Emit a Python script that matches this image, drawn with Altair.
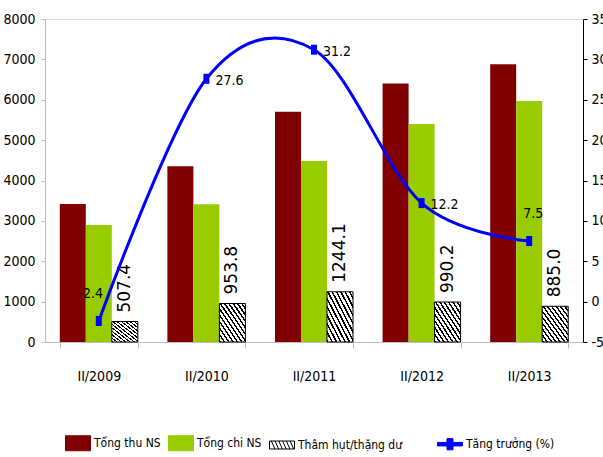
import altair as alt
import pandas as pd

# Budget revenue / expenditure by half-year (billion VND) and growth rate (%)
periods = ["II/2009", "II/2010", "II/2011", "II/2012", "II/2013"]
revenue = [3420, 4350, 5700, 6400, 6880]
spending = [2900, 3410, 4480, 5400, 5970]
balance = [507.4, 953.8, 1244.1, 990.2, 885.0]
growth = [-2.4, 27.6, 31.2, 12.2, 7.5]

series = ["Tổng thu NS", "Tổng chi NS", "Thâm hụt/thặng dư", "Tăng trưởng (%)"]
bar_series = series[:3]

NARROW = "DejaVu Sans Condensed, Liberation Sans Narrow, sans-serif"
HYPHEN = "replace(datum.label, '\u2212', '-')"

bars_df = pd.DataFrame(
    [{"period": p, "series": series[0], "value": v} for p, v in zip(periods, revenue)]
    + [{"period": p, "series": series[1], "value": v} for p, v in zip(periods, spending)]
    + [{"period": p, "series": series[2], "value": v} for p, v in zip(periods, balance)]
)
growth_df = pd.DataFrame({"period": periods, "growth": growth})

# Legend entries; the line entry sits a little apart from the bar entries
# (trailing no-break spaces, closed by a zero-width space so they are kept)
legend_names = list(series)
legend_names[2] = series[2] + "\u00a0" * 8 + "\u200b"
legend_df = pd.DataFrame({"series": legend_names})

x_enc = alt.X(
    "period:N",
    sort=periods,
    scale=alt.Scale(paddingInner=0.275, paddingOuter=0.1375),
    axis=alt.Axis(
        title=None, labelAngle=0, tickBand="extent", domainColor="#BFBFBF",
        tickColor="#BFBFBF", tickSize=6, labelPadding=21, labelFont=NARROW,
        labelFontSize=14, labelColor="black",
    ),
)
off_enc = alt.XOffset(
    "series:N", sort=bar_series,
    scale=alt.Scale(domain=bar_series, paddingInner=0, paddingOuter=0),
)
y_left = alt.Y(
    "value:Q",
    scale=alt.Scale(domain=[0, 8000], nice=False),
    axis=alt.Axis(
        title=None, grid=False, values=list(range(0, 8001, 1000)), format="d",
        domainColor="#BFBFBF", tickColor="#BFBFBF", tickSize=4, labelPadding=6,
        labelFont=NARROW, labelFontSize=14, labelColor="black",
    ),
)
y_right = alt.Y(
    "growth:Q",
    scale=alt.Scale(domain=[-5, 35], nice=False),
    axis=alt.Axis(
        title=None, grid=False, orient="right", values=list(range(-5, 36, 5)),
        labelExpr=HYPHEN, domainColor="black", tickColor="black", tickSize=4,
        labelPadding=4, labelFont=NARROW, labelFontSize=14, labelColor="black",
    ),
)

# Diagonal hatching for the surplus/deficit bars
stops = []
n_stripes = 12
for k in range(n_stripes):
    a = k / n_stripes
    b = (k + 0.4) / n_stripes
    c = (k + 1) / n_stripes
    stops += [
        alt.GradientStop(offset=a, color="black"),
        alt.GradientStop(offset=b, color="black"),
        alt.GradientStop(offset=b, color="white"),
        alt.GradientStop(offset=c, color="white"),
    ]
hatch = alt.LinearGradient(gradient="linear", stops=stops, x1=0, y1=1, x2=1, y2=0)

solid_bars = (
    alt.Chart(bars_df)
    .transform_filter(alt.FieldOneOfPredicate(field="series", oneOf=series[:2]))
    .mark_bar()
    .encode(
        x=x_enc, xOffset=off_enc, y=y_left,
        fill=alt.Fill("series:N", scale=alt.Scale(domain=series[:2], range=["#800000", "#99CC00"]), legend=None),
    )
)
hatched_bars = (
    alt.Chart(bars_df)
    .transform_filter(alt.datum.series == series[2])
    .mark_bar(fill=hatch, stroke="black", strokeWidth=1)
    .encode(x=x_enc, xOffset=off_enc, y=y_left)
)
balance_labels = (
    alt.Chart(bars_df)
    .transform_filter(alt.datum.series == series[2])
    .mark_text(angle=270, align="left", baseline="middle", dx=9, font="DejaVu Sans", fontSize=17, color="black")
    .encode(x=x_enc, xOffset=off_enc, y=y_left, text=alt.Text("value:Q", format=".1f"))
)

# Legend built from an invisible layer, with custom symbol paths
hatch_path = "M-1,-0.32H1V0.32H-1Z" + "".join(
    f"M{x:.2f},-0.32L{x + 0.28:.2f},0.32" for x in [-0.85, -0.55, -0.25, 0.05, 0.35, 0.65]
)
shapes = [
    "M-1,-0.6H1V0.6H-1Z",
    "M-1,-0.6H1V0.6H-1Z",
    hatch_path,
    "M-1,-0.14H1V0.14H-1ZM-0.24,-0.45H0.24V0.45H-0.24Z",
]
leg = alt.Legend(
    title=None, orient="none", legendX=20, legendY=411, direction="horizontal",
    symbolSize=625, symbolOpacity=1, symbolStrokeWidth=1, labelFont=NARROW,
    labelFontSize=12, labelColor="black", labelOffset=3, columnPadding=5, padding=0,
    labelLimit=400,
)
legend_layer = (
    alt.Chart(legend_df)
    .mark_point(filled=True, opacity=0)
    .encode(
        color=alt.Color("series:N", sort=legend_names, scale=alt.Scale(domain=legend_names, range=["#800000", "#99CC00", "white", "#0000FF"]), legend=leg),
        stroke=alt.Stroke("series:N", sort=legend_names, scale=alt.Scale(domain=legend_names, range=["#800000", "#99CC00", "black", "#0000FF"]), legend=leg),
        shape=alt.Shape("series:N", sort=legend_names, scale=alt.Scale(domain=legend_names, range=shapes), legend=leg),
    )
)

left = alt.layer(solid_bars, hatched_bars, balance_labels, legend_layer)

line = (
    alt.Chart(growth_df)
    .mark_line(color="#0000FF", strokeWidth=3, interpolate="cardinal", tension=0)
    .encode(x=x_enc, y=y_right)
)
markers = (
    alt.Chart(growth_df)
    .mark_point(shape="M-0.6,-1H0.6V1H-0.6Z", size=100, filled=True, color="#0000FF", opacity=1)
    .encode(x=x_enc, y=y_right)
)
label_base = (
    alt.Chart(growth_df)
    .transform_calculate(txt="replace(format(datum.growth, '.1f'), '\u2212', '-')")
    .encode(x=x_enc, y=y_right, text="txt:N")
)
labels_right = label_base.transform_filter(
    alt.FieldOneOfPredicate(field="period", oneOf=periods[1:4])
).mark_text(align="left", baseline="middle", dx=9, dy=2, font=NARROW, fontSize=14, color="black")
label_first = label_base.transform_filter(alt.datum.period == periods[0]).mark_text(
    align="center", baseline="middle", dx=-8, dy=-27, font=NARROW, fontSize=14, color="black"
)
label_last = label_base.transform_filter(alt.datum.period == periods[4]).mark_text(
    align="center", baseline="middle", dx=4, dy=-27, font=NARROW, fontSize=14, color="black"
)

right = alt.layer(line, markers, labels_right, label_first, label_last)

chart = (
    alt.layer(left, right)
    .resolve_scale(y="independent")
    .properties(
        width=538, height=323,
        padding={"left": 45, "top": 19, "right": 20, "bottom": 115},
        autosize=alt.AutoSizeParams(type="none"),
    )
    .configure_view(stroke=None)
    .configure(background="white")
)

chart.save("out.html", embed_options={"renderer": "svg", "actions": False})
